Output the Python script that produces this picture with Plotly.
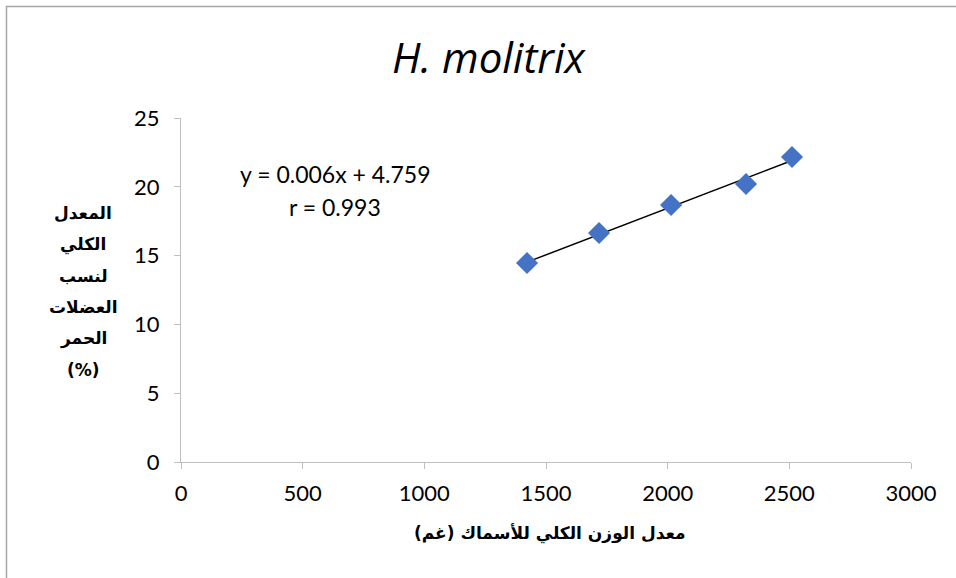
import numpy as np
import plotly.graph_objects as go

# Mean total fish weight (g) and mean red muscle percentage (%)
weight_g = [1422, 1718, 2014, 2322, 2511]
red_muscle_pct = [14.46, 16.64, 18.68, 20.20, 22.17]

x_ticks = [0, 500, 1000, 1500, 2000, 2500, 3000]
y_ticks = [0, 5, 10, 15, 20, 25]

title_text = "<i>H. molitrix</i>"
x_title = "<b>معدل الوزن الكلي للأسماك (غم)</b>"
y_title_lines = ["المعدل", "الكلي", "لنسب", "العضلات", "الحمر", "(%)"]
equation_lines = ["y = 0.006x + 4.759", "r = 0.993"]

# Least-squares trendline over the observed weight range
slope, intercept = np.polyfit(weight_g, red_muscle_pct, 1)
fit_x = [min(weight_g), max(weight_g)]
fit_y = [slope * v + intercept for v in fit_x]

fig = go.Figure()
fig.add_trace(go.Scatter(
    x=fit_x, y=fit_y, mode="lines",
    line=dict(color="black", width=1.5), hoverinfo="skip", showlegend=False,
))
fig.add_trace(go.Scatter(
    x=weight_g, y=red_muscle_pct, mode="markers",
    marker=dict(symbol="diamond", size=17, color="#4472C4"),
    showlegend=False,
))

W, H = 956, 578
L, R, T, B = 181, 45, 118, 116
pw, ph = W - L - R, H - T - B

def px_to_paper_x(px):
    return (px - L) / pw

def px_to_paper_y(py):
    return (H - B - py) / ph

latin_font = "Lato, Liberation Sans, sans-serif"
arabic_font = "DejaVu Sans, sans-serif"

axis_common = dict(
    showgrid=False, zeroline=False, showline=True,
    linecolor="#bfbfbf", linewidth=1,
    ticks="outside", ticklen=6, tickcolor="#bfbfbf",
    tickfont=dict(family=latin_font, size=22, color="#000000"),
)

annotations = [
    dict(text=title_text, xref="paper", yref="paper",
         x=px_to_paper_x(489), y=px_to_paper_y(57),
         showarrow=False, xanchor="center", yanchor="middle",
         font=dict(family="Open Sans, sans-serif", size=42, color="#000000")),
    dict(text=x_title, xref="paper", yref="paper",
         x=px_to_paper_x(550), y=px_to_paper_y(533),
         showarrow=False, xanchor="center", yanchor="middle",
         font=dict(family=arabic_font, size=17, color="#000000")),
]

# Stacked y-axis caption, one line per annotation for exact spacing
for i, line in enumerate(y_title_lines):
    annotations.append(dict(
        text="<b>" + line + "</b>", xref="paper", yref="paper",
        x=px_to_paper_x(83), y=px_to_paper_y(213 + i * 31.4),
        showarrow=False, xanchor="center", yanchor="middle",
        font=dict(family=arabic_font, size=17, color="#000000"),
    ))

for i, line in enumerate(equation_lines):
    annotations.append(dict(
        text=line, xref="paper", yref="paper",
        x=px_to_paper_x(335), y=px_to_paper_y(174 + i * 33),
        showarrow=False, xanchor="center", yanchor="middle",
        font=dict(family=latin_font, size=23, color="#000000"),
    ))

fig.update_layout(
    width=W, height=H,
    margin=dict(l=L, r=R, t=T, b=B),
    paper_bgcolor="white", plot_bgcolor="white",
    xaxis=dict(range=[0, 3000], tickvals=x_ticks, ticklabelstandoff=6, **axis_common),
    yaxis=dict(range=[0, 25], tickvals=y_ticks, ticklabelstandoff=10, **axis_common),
    annotations=annotations,
    shapes=[
        dict(type="line", xref="paper", yref="paper",
             x0=px_to_paper_x(6), x1=px_to_paper_x(956),
             y0=px_to_paper_y(6.5), y1=px_to_paper_y(6.5),
             line=dict(color="#a6a6a6", width=1.5)),
        dict(type="line", xref="paper", yref="paper",
             x0=px_to_paper_x(6.5), x1=px_to_paper_x(6.5),
             y0=px_to_paper_y(6), y1=px_to_paper_y(578),
             line=dict(color="#a6a6a6", width=1.5)),
    ],
)

fig.write_html("out.html")
